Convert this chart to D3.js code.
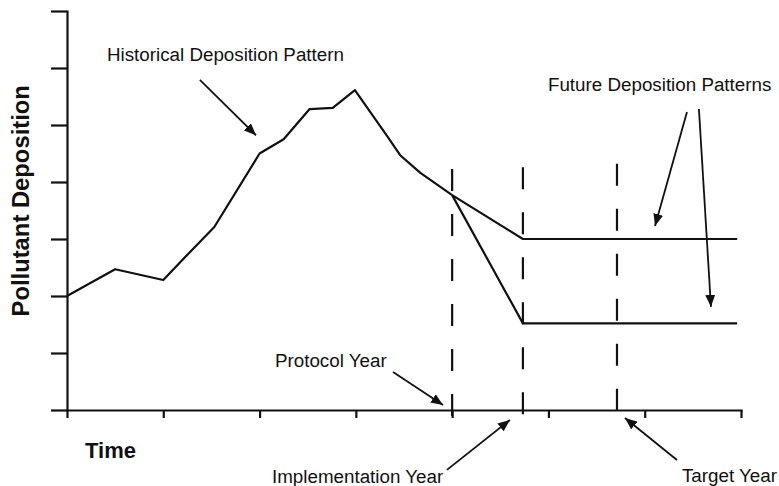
<!DOCTYPE html>
<html>
<head>
<meta charset="utf-8">
<script src="https://cdn.jsdelivr.net/npm/d3@7"></script>
<style>
  html, body { margin: 0; padding: 0; background: #fff; }
  svg { display: block; }
  text { font-family: "Liberation Sans", Arial, sans-serif; fill: #111; }
</style>
</head>
<body>
<svg id="chart" width="779" height="486"></svg>
<script>
// ---- Data (values in chart units) ----
const historicalTime = [0, 0.5, 1.0, 1.22, 1.53, 2.0, 2.25, 2.52, 2.76, 2.99, 3.32, 3.46, 3.67, 4.0];
const historicalDeposition = [2.0, 2.47, 2.28, 2.67, 3.21, 4.5, 4.75, 5.28, 5.30, 5.61, 4.82, 4.47, 4.16, 3.77];

const futureTime = [4.0, 4.735, 6.96];
const futureHigh = [3.77, 3.0, 3.0];
const futureLow = [3.77, 1.52, 1.52];

const markerYears = ["Protocol Year", "Implementation Year", "Target Year"];
const markerTime = [4.0, 4.735, 5.712];
const markerTop = [4.23, 4.26, 4.32];

const yTicks = [0, 1, 2, 3, 4, 5, 6, 7];
const xTicks = [0, 1, 2, 3, 4, 5, 6, 7];

// Annotation texts and anchors (chart units)
const labels = [
  { text: "Historical Deposition Pattern", t: 0.415, v: 6.12 },
  { text: "Future Deposition Patterns", t: 4.995, v: 5.60 },
  { text: "Protocol Year", t: 2.16, v: 0.754 },
  { text: "Implementation Year", t: 2.129, v: -1.28 },
  { text: "Target Year", t: 6.387, v: -1.263 }
];
const arrows = [
  { t1: 1.38, v1: 5.79, t2: 1.963, v2: 4.82 },
  { t1: 6.439, v1: 5.23, t2: 6.107, v2: 3.23 },
  { t1: 6.563, v1: 5.28, t2: 6.688, v2: 1.81 },
  { t1: 3.386, v1: 0.667, t2: 3.905, v2: 0.088 },
  { t1: 3.946, v1: -1.05, t2: 4.60, v2: -0.175 },
  { t1: 6.335, v1: -0.877, t2: 5.795, v2: -0.14 }
];

// ---- Scales ----
const svg = d3.select("#chart");
const x = d3.scaleLinear().domain([0, 7]).range([67, 741]);
const y = d3.scaleLinear().domain([0, 7]).range([410, 11]);

// Arrow marker
svg.append("defs").append("marker")
  .attr("id", "arrow")
  .attr("viewBox", "0 0 12 10")
  .attr("refX", 12).attr("refY", 5)
  .attr("markerWidth", 12).attr("markerHeight", 10)
  .attr("markerUnits", "userSpaceOnUse")
  .attr("orient", "auto")
  .append("path").attr("d", "M0,0 L12,5 L0,10 Z").attr("fill", "#111");

// ---- Axes ----
const yAxis = d3.axisLeft(y).tickValues(yTicks).tickSize(16).tickSizeOuter(0).tickFormat("");
const xAxis = d3.axisBottom(x).tickValues(xTicks).tickSize(8).tickSizeOuter(0).tickFormat("");

const gy = svg.append("g").attr("transform", `translate(${x(0)},0)`).call(yAxis);
const gx = svg.append("g").attr("transform", `translate(0,${y(0)})`).call(xAxis);
[gy, gx].forEach(g => {
  g.selectAll("path, line").attr("stroke", "#111").attr("stroke-width", 2.2);
  g.select(".domain").attr("stroke-linecap", "square");
});

// ---- Dashed marker-year lines ----
svg.append("g").selectAll("line")
  .data(markerTime)
  .join("line")
  .attr("x1", d => x(d)).attr("x2", d => x(d))
  .attr("y1", (d, i) => y(markerTop[i]))
  .attr("y2", y(0) + 8)
  .attr("stroke", "#111").attr("stroke-width", 2.2)
  .attr("stroke-dasharray", "22,23");

// ---- Lines ----
const line = d3.line().x(d => x(d[0])).y(d => y(d[1]));
const series = [
  d3.zip(historicalTime, historicalDeposition),
  d3.zip(futureTime, futureHigh),
  d3.zip(futureTime, futureLow)
];
svg.append("g").selectAll("path")
  .data(series)
  .join("path")
  .attr("d", line)
  .attr("fill", "none")
  .attr("stroke", "#111")
  .attr("stroke-width", 2.2)
  .attr("stroke-linejoin", "round");

// ---- Annotation arrows ----
svg.append("g").selectAll("line")
  .data(arrows)
  .join("line")
  .attr("x1", d => x(d.t1)).attr("y1", d => y(d.v1))
  .attr("x2", d => x(d.t2)).attr("y2", d => y(d.v2))
  .attr("stroke", "#111").attr("stroke-width", 1.8)
  .attr("marker-end", "url(#arrow)");

// ---- Labels ----
svg.append("g").selectAll("text")
  .data(labels)
  .join("text")
  .attr("x", d => x(d.t)).attr("y", d => y(d.v))
  .attr("font-size", "18.8px")
  .text(d => d.text);

// Axis titles
svg.append("text")
  .attr("x", x(0.187)).attr("y", y(-0.84))
  .attr("font-size", "22px").attr("font-weight", "bold")
  .text("Time");

svg.append("text")
  .attr("transform", `translate(29,${y(3.67)}) rotate(-90)`)
  .attr("text-anchor", "middle")
  .attr("font-size", "23.8px").attr("font-weight", "bold")
  .text("Pollutant Deposition");
</script>
</body>
</html>
